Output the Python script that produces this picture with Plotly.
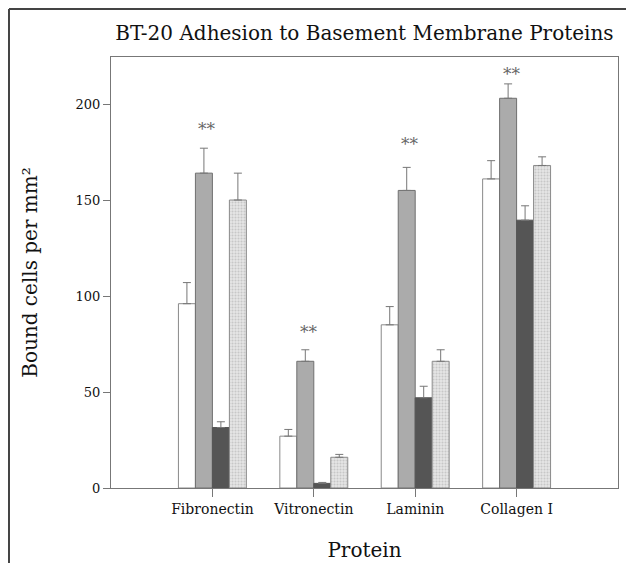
import plotly.graph_objects as go

proteins = ["Fibronectin", "Vitronectin", "Laminin", "Collagen I"]
white_vals = [96, 27, 85, 161]
white_err = [11, 3.5, 9.5, 9.5]
gray_vals = [164, 66, 155, 203]
gray_err = [13, 6, 12, 7.5]
dark_vals = [31.5, 2.4, 47, 139.5]
dark_err = [3, 0.5, 6, 7.5]
hatch_vals = [150, 16, 66, 168]
hatch_err = [14, 1.5, 6, 4.5]
star_labels = ["**", "**", "**", "**"]
star_y = [187, 81, 179, 215.5]

FONT = "DejaVu Serif"
fig = go.Figure()

def err(a, c="#777777"):
    return dict(type="data", array=a, arrayminus=[0] * len(a), symmetric=False,
                color=c, thickness=1, width=4)

fig.add_trace(go.Bar(x=proteins, y=white_vals, error_y=err(white_err),
                     marker=dict(color="white", line=dict(color="#8a8a8a", width=1)),
                     name="Control"))
fig.add_trace(go.Bar(x=proteins, y=gray_vals, error_y=err(gray_err),
                     marker=dict(color="#ababab", line=dict(color="#6f6f6f", width=1)),
                     name="B"))
fig.add_trace(go.Bar(x=proteins, y=dark_vals, error_y=err(dark_err),
                     marker=dict(color="#555555", line=dict(color="#555555", width=1)),
                     name="C"))
fig.add_trace(go.Bar(x=proteins, y=hatch_vals, error_y=err(hatch_err),
                     marker=dict(color="#dcdcdc", line=dict(color="#8a8a8a", width=1),
                                 pattern=dict(shape=".", fgcolor="#a8a8a8", bgcolor="#e6e6e6",
                                              size=3, solidity=0.4)),
                     name="D"))

for p, s, yv in zip(proteins, star_labels, star_y):
    fig.add_annotation(x=p, y=yv, text=s, showarrow=False, xshift=-5,
                       font=dict(family=FONT, size=17, color="#666666"))

# outer frame lines (top and left) at the figure edge
fig.add_shape(type="line", xref="paper", yref="paper", x0=-0.2012, x1=1.05, y0=1.1114, y1=1.1114,
              line=dict(color="#444444", width=2))
fig.add_shape(type="line", xref="paper", yref="paper", x0=-0.2012, x1=-0.2012, y0=1.1114, y1=-0.2,
              line=dict(color="#444444", width=2))

fig.update_layout(
    width=626, height=555,
    margin=dict(l=103, r=16, t=49, b=75),
    paper_bgcolor="white", plot_bgcolor="white",
    barmode="group", bargap=0.33, bargroupgap=0,
    showlegend=False,
    font=dict(family=FONT, color="#111111"),
    title=dict(text="BT-20 Adhesion to Basement Membrane Proteins", x=0.5, xref="paper",
               y=1 - 25 / 555, yanchor="middle", font=dict(family=FONT, size=20, color="#111111")),
    xaxis=dict(range=[-1, 4], showline=True, linecolor="#777777", linewidth=1, mirror=True,
               automargin=False,
               ticks="outside", ticklen=8, tickcolor="#777777", showgrid=False,
               tickfont=dict(family=FONT, size=14, color="#111111"),
               title=dict(text="Protein", font=dict(family=FONT, size=20, color="#111111"), standoff=27)),
    yaxis=dict(range=[0, 224.5], showline=True, linecolor="#777777", linewidth=1, mirror=True,
               automargin=False,
               ticks="outside", ticklen=7, tickcolor="#777777", showgrid=False, zeroline=False,
               tickvals=[0, 50, 100, 150, 200],
               tickfont=dict(family=FONT, size=13, color="#111111"),
               title=dict(text="Bound cells per mm²", font=dict(family=FONT, size=20, color="#111111"), standoff=32)),
)

fig.write_html("out.html")
